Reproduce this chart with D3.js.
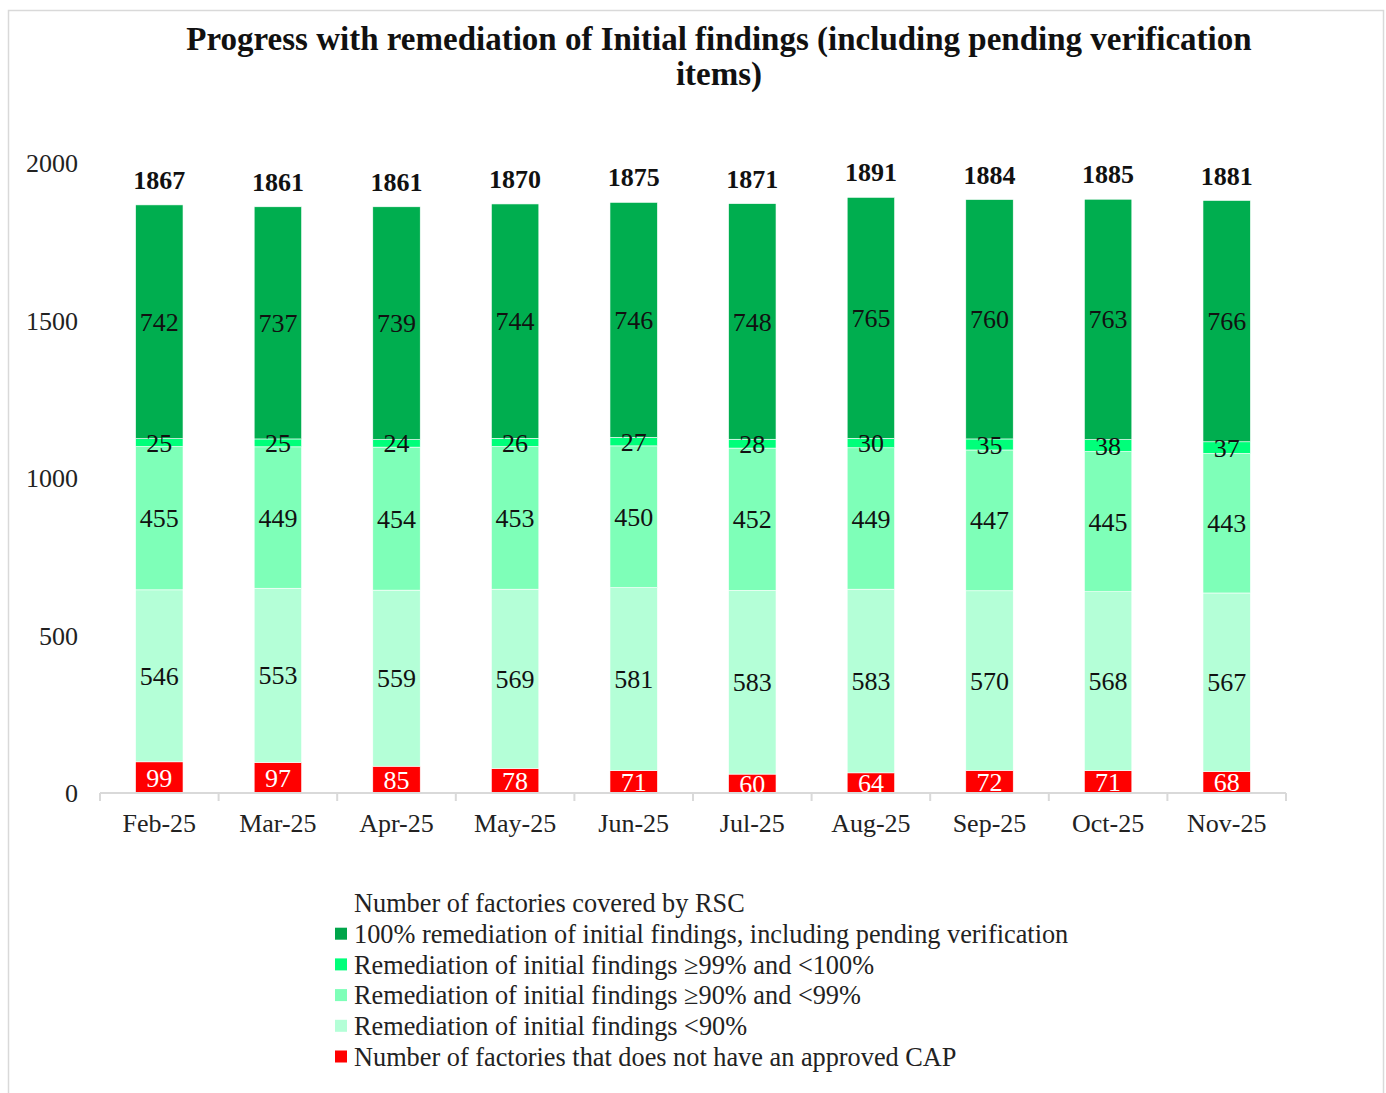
<!DOCTYPE html>
<html><head><meta charset="utf-8">
<script src="https://cdn.jsdelivr.net/npm/d3@7"></script>
<style>html,body{margin:0;padding:0;background:#fff}svg{display:block}</style>
</head><body>
<svg id="c" width="1386" height="1093"></svg>
<script>
const categories = ["Feb-25","Mar-25","Apr-25","May-25","Jun-25","Jul-25","Aug-25","Sep-25","Oct-25","Nov-25"];
const noCap      = [99,97,85,78,71,60,64,72,71,68];
const below90    = [546,553,559,569,581,583,583,570,568,567];
const from90to99 = [455,449,454,453,450,452,449,447,445,443];
const from99to100= [25,25,24,26,27,28,30,35,38,37];
const full100    = [742,737,739,744,746,748,765,760,763,766];
const totals     = [1867,1861,1861,1870,1875,1871,1891,1884,1885,1881];
const yTicks = [0,500,1000,1500,2000];
const seriesNames = [
  "Number of factories that does not have an approved CAP",
  "Remediation of initial findings <90%",
  "Remediation of initial findings ≥90% and <99%",
  "Remediation of initial findings ≥99% and <100%",
  "100% remediation of initial findings, including pending verification"
];
const totalName = "Number of factories covered by RSC";
const titleLines = ["Progress with remediation of Initial findings (including pending verification","items)"];

const colors = ["#FF0000","#B4FFD7","#7EFFB8","#00FF7A","#00AE4F"];
const legendColors = ["#FF0000","#B4FFD7","#7EFFB8","#00FF7A","#00A54A"];
const labelColors = ["#ffffff","#111","#111","#111","#111"];
const FONT = "'Liberation Serif', 'DejaVu Serif', serif";

const svg = d3.select("#c");
svg.append("rect").attr("x",8.5).attr("y",10.5).attr("width",1375).attr("height",1100)
  .attr("fill","#fff").attr("stroke","#d9d9d9").attr("stroke-width",1.5);

const x = d3.scaleBand().domain(categories).range([100,1286]).paddingInner(0.6).paddingOuter(0.3);
const y = d3.scaleLinear().domain([0,2000]).range([793,163]);

const rows = categories.map((c,i)=>({cat:c, v:[noCap[i],below90[i],from90to99[i],from99to100[i],full100[i]], total: totals[i]}));
const stack = d3.stack().keys([0,1,2,3,4]).value((d,k)=>d.v[k]);
const layers = stack(rows);

// title
svg.append("g").selectAll("text").data(titleLines).join("text")
  .attr("x",719).attr("y",(d,i)=>38+i*35).attr("dy","0.35em")
  .attr("text-anchor","middle").attr("font-family",FONT).attr("font-weight","bold")
  .attr("font-size",33).attr("fill","#111").text(d=>d);

// bars
const gl = svg.append("g").selectAll("g").data(layers).join("g").attr("fill",(d,i)=>colors[i]);
gl.selectAll("rect").data(d=>d).join("rect")
  .attr("x",d=>x(d.data.cat)).attr("width",x.bandwidth())
  .attr("y",d=>y(d[1])).attr("height",d=>y(d[0])-y(d[1]))
  .attr("stroke","#ffffff").attr("stroke-width",0.6);

// segment labels
svg.append("g").selectAll("g").data(layers).join("g").each(function(layer,li){
  d3.select(this).selectAll("text").data(layer).join("text")
    .attr("x",d=>x(d.data.cat)+x.bandwidth()/2).attr("y",d=>y((d[0]+d[1])/2))
    .attr("dy","0.35em").attr("text-anchor","middle")
    .attr("font-family",FONT).attr("font-size",26).attr("fill",labelColors[li])
    .text(d=>d.data.v[li]);
});

// totals
svg.append("g").selectAll("text").data(rows).join("text")
  .attr("x",d=>x(d.cat)+x.bandwidth()/2).attr("y",d=>y(d.total)-25)
  .attr("dy","0.35em").attr("text-anchor","middle")
  .attr("font-family",FONT).attr("font-weight","bold").attr("font-size",26).attr("fill","#111")
  .text(d=>d.total);

// x axis
const xa = svg.append("g").attr("transform","translate(0,793)");
xa.append("line").attr("x1",100).attr("x2",1286).attr("stroke","#d9d9d9").attr("stroke-width",2);
const step = x.step();
const bounds = categories.map((c,i)=>x(c)-step*x.paddingInner()/2).concat([x(categories[categories.length-1])+x.bandwidth()+step*x.paddingInner()/2]);
xa.selectAll("line.t").data(bounds).join("line").attr("class","t")
  .attr("x1",d=>d).attr("x2",d=>d).attr("y1",0).attr("y2",8).attr("stroke","#d9d9d9").attr("stroke-width",2);
xa.selectAll("text").data(categories).join("text")
  .attr("x",d=>x(d)+x.bandwidth()/2).attr("y",30).attr("dy","0.35em").attr("text-anchor","middle")
  .attr("font-family",FONT).attr("font-size",26).attr("fill","#222").text(d=>d);

// y axis labels
svg.append("g").selectAll("text").data(yTicks).join("text")
  .attr("x",78).attr("y",d=>y(d)).attr("dy","0.35em").attr("text-anchor","end")
  .attr("font-family",FONT).attr("font-size",26).attr("fill","#222").text(d=>d);

// legend
const legendItems = [{name:totalName,color:null}].concat([4,3,2,1,0].map(i=>({name:seriesNames[i],color:legendColors[i]})));
const lg = svg.append("g").selectAll("g").data(legendItems).join("g")
  .attr("transform",(d,i)=>`translate(335,${903+i*30.7})`);
lg.filter(d=>d.color).append("rect").attr("x",0).attr("y",-6).attr("width",12).attr("height",12).attr("fill",d=>d.color);
lg.append("text").attr("x",19).attr("dy","0.35em").attr("font-family",FONT).attr("font-size",26.3).attr("fill","#222").text(d=>d.name);
</script>
</body></html>
